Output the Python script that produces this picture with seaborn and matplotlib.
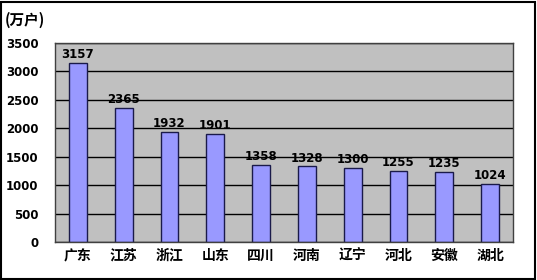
import matplotlib
matplotlib.use("Agg")
import matplotlib.pyplot as plt
import seaborn as sns
import pandas as pd
from matplotlib.patches import Rectangle

provinces = ["广东", "江苏", "浙江", "山东", "四川", "河南", "辽宁", "河北", "安徽", "湖北"]
values = [3157, 2365, 1932, 1901, 1358, 1328, 1300, 1255, 1235, 1024]
yticks = [0, 500, 1000, 1500, 2000, 2500, 3000, 3500]
unit_label = "(万户)"

sns.set_theme(style="white")
plt.rcParams['font.family'] = ['Noto Sans CJK SC', 'DejaVu Sans']
plt.rcParams['text.color'] = 'black'
plt.rcParams['xtick.color'] = 'black'
plt.rcParams['ytick.color'] = 'black'

df = pd.DataFrame({"省份": provinces, "户数": values})

fig = plt.figure(figsize=(5.37, 2.80), dpi=100)
ax = fig.add_axes([55/537, 1 - 242/280, (513 - 55)/537, (242 - 43)/280])
ax.set_facecolor("#C0C0C0")
ax.set_axisbelow(True)
ax.yaxis.grid(True, color="black", linewidth=1.0)

sns.barplot(data=df, x="省份", y="户数", color="#9999FF", saturation=1,
            width=0.39, edgecolor="#1a1a4a", linewidth=1.0, ax=ax)

ax.set_ylim(0, 3500)
ax.set_xlim(-0.5, len(provinces) - 0.5)
ax.set_yticks(yticks)
ax.set_yticklabels([str(t) for t in yticks], fontsize=8.5, fontweight="bold",
                   family=['DejaVu Sans'], color="black")
ax.set_xticks(range(len(provinces)))
ax.set_xticklabels(provinces, fontsize=10, fontweight="black", color="black")
ax.tick_params(axis="y", length=0, pad=12)
ax.tick_params(axis="x", length=0, pad=5)
ax.set_xlabel("")
ax.set_ylabel("")
for s in ax.spines.values():
    s.set_color("#404040")
    s.set_linewidth(1.0)

for i, v in enumerate(values):
    ax.text(i, v + 30, str(v), ha="center", va="bottom", fontsize=8.5,
            fontweight="bold", family=['DejaVu Sans'], color="black")

fig.text(5/537, 1 - 20/280, unit_label, ha="left", va="center", fontsize=10.5,
         fontweight="black", color="black")

fig.patches.append(Rectangle((0.002, 0.004), 0.994, 0.99, transform=fig.transFigure,
                             fill=False, edgecolor="black", linewidth=1.5))

fig.savefig("out.png", dpi=100)
